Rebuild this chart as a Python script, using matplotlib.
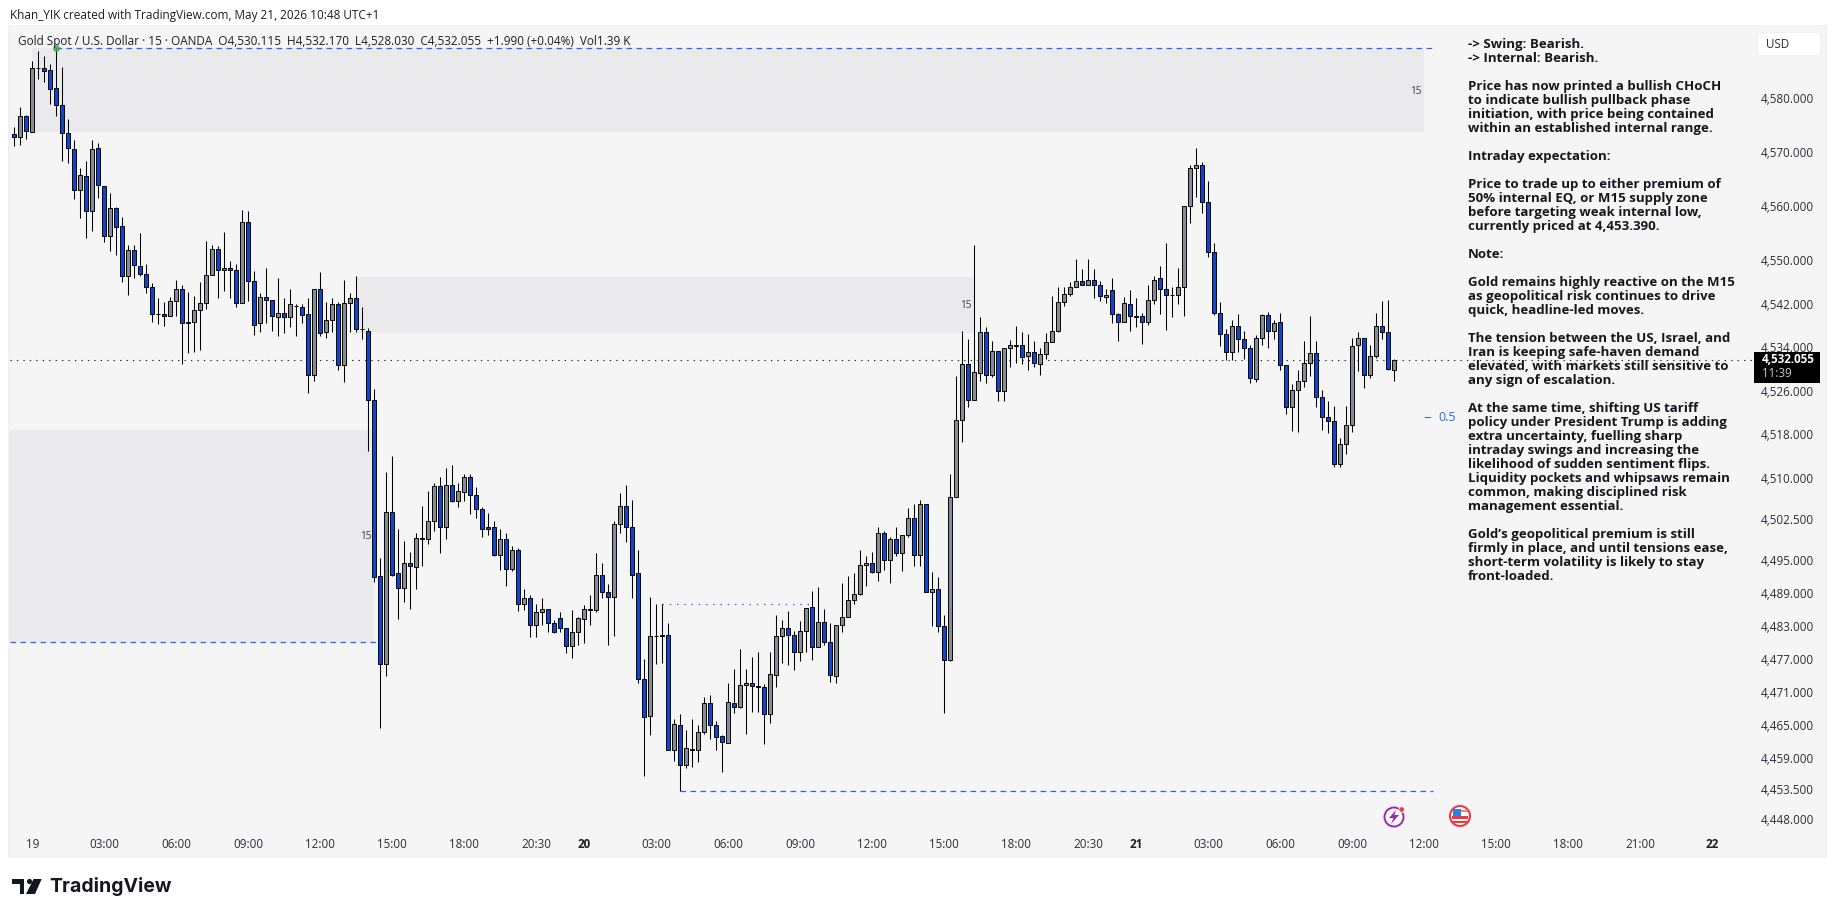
"""Gold Spot / USD 15m chart (TradingView screenshot)."""
import matplotlib
matplotlib.use("Agg")
import matplotlib.pyplot as plt
from matplotlib.patches import Circle, FancyBboxPatch, Polygon, Rectangle
from matplotlib.transforms import Affine2D

W, H = 1835, 917
FONT = "Open Sans"
plt.rcParams["font.family"] = [FONT, "DejaVu Sans"]

opens = [
    4573.7, 4573.1, 4577.0, 4574.1, 4585.9, 4586.0, 4585.6, 4582.2, 4579.1, 4573.9,
    4570.9, 4563.3, 4565.9, 4559.4, 4571.1, 4564.0, 4554.8, 4560.0, 4556.6, 4547.4,
    4552.2, 4549.2, 4547.9, 4545.4, 4540.4, 4540.5, 4540.0, 4542.8, 4545.0, 4538.7,
    4538.9, 4541.1, 4542.4, 4547.7, 4552.4, 4548.5, 4549.0, 4548.5, 4542.4, 4557.4,
    4546.6, 4538.7, 4543.5, 4543.1, 4539.8, 4540.7, 4539.8, 4542.0, 4541.8, 4540.4,
    4529.3, 4545.0, 4537.1, 4539.4, 4542.2, 4531.0, 4542.4, 4543.3, 4537.6, 4537.4,
    4524.7, 4492.5, 4476.5, 4504.2, 4492.9, 4490.3, 4494.9, 4494.1, 4499.4, 4499.1,
    4502.4, 4508.8, 4501.3, 4509.1, 4506.2, 4507.8, 4510.6, 4507.3, 4504.7, 4501.3,
    4501.3, 4496.3, 4499.2, 4493.8, 4497.2, 4487.4, 4488.5, 4483.6, 4485.9, 4486.5,
    4483.8, 4484.8, 4483.0, 4479.7, 4482.3, 4484.6, 4486.3, 4486.3, 4492.7, 4489.6,
    4488.7, 4502.0, 4505.3, 4501.3, 4492.9, 4473.7, 4467.0, 4481.6, 4481.6, 4481.7,
    4460.9, 4465.4, 4458.2, 4461.0, 4460.9, 4464.1, 4469.4, 4465.4, 4463.4, 4462.1,
    4469.4, 4468.7, 4472.7, 4473.0, 4472.5, 4472.3, 4467.4, 4474.5, 4481.6, 4483.0,
    4481.7, 4478.6, 4482.5, 4486.8, 4479.6, 4484.1, 4480.5, 4474.3, 4483.6, 4485.0,
    4488.1, 4489.2, 4494.5, 4494.9, 4493.2, 4500.3, 4495.4, 4499.2, 4496.7, 4500.0,
    4503.1, 4496.3, 4505.5, 4489.6, 4490.1, 4483.4, 4477.2, 4506.9, 4520.9, 4531.3,
    4524.7, 4529.5, 4537.1, 4529.3, 4533.7, 4526.2, 4534.1, 4534.7, 4534.7, 4532.8,
    4533.4, 4531.3, 4533.0, 4535.2, 4537.4, 4542.6, 4544.1, 4545.4, 4546.5, 4545.7,
    4546.8, 4545.7, 4543.5, 4544.8, 4540.4, 4538.9, 4542.2, 4540.0, 4540.0, 4538.9,
    4543.1, 4547.0, 4545.0, 4543.9, 4543.9, 4545.4, 4560.3, 4567.4, 4567.9, 4561.1,
    4551.8, 4540.7, 4536.7, 4533.4, 4538.3, 4535.8, 4534.1, 4528.4, 4536.1, 4540.2,
    4537.4, 4538.9, 4531.0, 4523.3, 4526.4, 4528.1, 4531.5, 4533.2, 4525.1, 4521.6,
    4520.7, 4512.9, 4516.6, 4520.0, 4534.7, 4536.1, 4529.3, 4532.8, 4538.2, 4537.1,
    4530.115,
]
highs = [
    4575.0, 4578.7, 4577.3, 4587.3, 4589.1, 4588.2, 4586.8, 4589.7, 4586.1, 4576.5,
    4572.6, 4567.5, 4568.7, 4572.6, 4572.0, 4564.0, 4562.7, 4560.2, 4558.3, 4553.1,
    4553.1, 4555.3, 4549.6, 4546.1, 4543.4, 4542.6, 4543.5, 4546.8, 4545.8, 4544.5,
    4543.7, 4546.3, 4554.0, 4553.1, 4552.9, 4555.5, 4550.3, 4549.6, 4559.6, 4559.4,
    4548.3, 4544.4, 4548.9, 4543.1, 4547.0, 4543.3, 4545.0, 4542.2, 4542.2, 4543.3,
    4545.0, 4548.1, 4542.6, 4543.3, 4542.6, 4546.8, 4544.4, 4547.4, 4541.8, 4537.8,
    4526.6, 4495.8, 4511.5, 4514.3, 4501.1, 4498.9, 4496.9, 4500.3, 4505.3, 4507.9,
    4509.5, 4510.6, 4512.2, 4512.8, 4509.5, 4511.0, 4511.1, 4508.6, 4505.1, 4504.0,
    4502.5, 4501.1, 4500.2, 4498.0, 4497.6, 4490.1, 4489.0, 4487.4, 4488.5, 4486.5,
    4484.5, 4485.9, 4483.0, 4486.2, 4485.0, 4487.1, 4488.9, 4496.7, 4494.9, 4490.9,
    4502.4, 4507.5, 4509.0, 4506.4, 4497.1, 4477.4, 4488.7, 4487.4, 4487.4, 4483.9,
    4466.5, 4467.4, 4464.5, 4466.5, 4465.4, 4470.5, 4470.8, 4466.1, 4463.6, 4473.0,
    4475.6, 4479.2, 4475.6, 4477.7, 4478.6, 4472.8, 4478.6, 4485.4, 4484.4, 4486.1,
    4482.5, 4484.2, 4486.7, 4489.7, 4490.5, 4486.5, 4483.9, 4483.6, 4491.2, 4492.5,
    4492.9, 4497.2, 4496.0, 4496.9, 4501.4, 4500.7, 4499.6, 4501.3, 4500.0, 4504.9,
    4505.5, 4506.4, 4505.6, 4493.2, 4492.3, 4485.4, 4511.1, 4529.0, 4537.4, 4535.8,
    4553.1, 4539.8, 4538.0, 4535.4, 4533.7, 4534.1, 4535.6, 4538.3, 4537.1, 4536.7,
    4535.4, 4534.1, 4536.9, 4543.7, 4545.4, 4545.4, 4546.3, 4550.5, 4548.7, 4550.5,
    4548.7, 4546.5, 4545.1, 4547.0, 4540.7, 4543.5, 4544.8, 4543.4, 4540.7, 4545.7,
    4547.5, 4549.2, 4553.5, 4545.4, 4548.9, 4560.3, 4567.9, 4571.1, 4568.5, 4565.0,
    4553.5, 4542.6, 4537.6, 4539.3, 4540.4, 4537.4, 4534.7, 4536.5, 4540.4, 4540.9,
    4539.4, 4540.7, 4531.0, 4527.5, 4530.1, 4535.4, 4540.0, 4535.4, 4526.4, 4524.5,
    4523.6, 4517.7, 4523.6, 4536.1, 4537.2, 4536.1, 4534.8, 4540.7, 4542.8, 4543.1,
    4532.17,
]
lows = [
    4571.4, 4571.7, 4572.8, 4574.0, 4583.9, 4583.4, 4579.3, 4577.0, 4568.8, 4568.4,
    4561.7, 4558.1, 4554.5, 4555.7, 4561.8, 4553.7, 4552.0, 4551.4, 4546.3, 4544.0,
    4547.1, 4547.4, 4544.3, 4539.0, 4538.6, 4538.3, 4540.0, 4540.0, 4531.3, 4533.3,
    4533.5, 4533.9, 4541.3, 4547.7, 4543.4, 4544.6, 4543.4, 4541.8, 4542.4, 4542.9,
    4536.6, 4537.2, 4538.7, 4537.4, 4536.4, 4537.0, 4538.0, 4536.4, 4538.7, 4526.0,
    4528.2, 4536.3, 4536.1, 4537.2, 4530.2, 4527.9, 4537.1, 4537.1, 4535.9, 4515.3,
    4491.3, 4464.9, 4474.3, 4492.5, 4484.7, 4487.7, 4486.5, 4490.0, 4494.2, 4498.3,
    4500.7, 4496.6, 4499.1, 4506.0, 4505.0, 4506.2, 4503.7, 4503.1, 4499.5, 4500.0,
    4496.0, 4493.6, 4490.6, 4493.3, 4486.0, 4486.2, 4481.4, 4481.3, 4483.6, 4482.2,
    4482.0, 4482.3, 4478.5, 4477.6, 4479.8, 4480.2, 4483.6, 4485.9, 4488.5, 4479.9,
    4481.6, 4500.2, 4498.6, 4488.4, 4472.9, 4456.2, 4463.5, 4476.5, 4476.6, 4460.9,
    4458.8, 4453.39, 4457.6, 4457.8, 4458.6, 4463.7, 4462.8, 4460.8, 4456.9, 4462.1,
    4467.6, 4468.4, 4463.7, 4467.8, 4467.8, 4461.9, 4465.7, 4472.2, 4476.7, 4476.3,
    4475.3, 4476.9, 4478.7, 4477.1, 4479.6, 4479.9, 4473.1, 4472.9, 4482.2, 4485.0,
    4487.4, 4488.9, 4490.6, 4492.9, 4491.5, 4493.6, 4491.1, 4496.0, 4493.3, 4499.5,
    4494.2, 4494.2, 4489.6, 4483.4, 4482.3, 4467.5, 4476.9, 4506.9, 4516.9, 4523.4,
    4524.7, 4528.1, 4527.7, 4528.8, 4524.4, 4524.5, 4530.6, 4531.5, 4531.3, 4530.2,
    4530.6, 4529.3, 4532.2, 4535.2, 4537.2, 4541.9, 4543.7, 4545.4, 4545.7, 4545.7,
    4543.4, 4542.9, 4542.4, 4538.8, 4535.5, 4538.9, 4537.4, 4538.1, 4535.0, 4538.5,
    4542.2, 4540.5, 4537.5, 4539.9, 4542.2, 4540.1, 4557.3, 4562.1, 4559.1, 4550.9,
    4540.2, 4534.5, 4531.9, 4531.9, 4533.4, 4532.1, 4527.7, 4527.9, 4534.8, 4534.1,
    4535.9, 4530.1, 4522.0, 4518.9, 4518.7, 4527.1, 4529.0, 4523.3, 4519.2, 4518.5,
    4512.4, 4512.4, 4514.8, 4518.7, 4529.9, 4526.8, 4528.6, 4532.3, 4535.9, 4530.1,
    4528.03,
]
closes = [
    4573.1, 4577.0, 4574.2, 4586.0, 4586.0, 4585.4, 4582.0, 4579.1, 4573.9, 4571.1,
    4563.3, 4566.1, 4559.4, 4570.9, 4564.2, 4554.8, 4560.0, 4556.5, 4547.4, 4552.2,
    4549.4, 4547.9, 4545.4, 4540.4, 4540.5, 4540.0, 4542.8, 4545.0, 4538.7, 4538.9,
    4541.1, 4542.4, 4547.7, 4552.4, 4548.5, 4548.9, 4548.5, 4542.4, 4557.4, 4546.6,
    4538.5, 4543.5, 4543.1, 4540.0, 4540.7, 4539.8, 4542.2, 4541.9, 4540.2, 4529.3,
    4545.0, 4536.9, 4539.4, 4542.2, 4531.0, 4542.4, 4543.3, 4537.6, 4537.7, 4524.7,
    4492.3, 4476.5, 4504.2, 4492.7, 4490.3, 4494.9, 4494.3, 4499.4, 4499.1, 4502.4,
    4508.8, 4501.3, 4509.1, 4506.2, 4508.0, 4510.6, 4507.3, 4504.7, 4501.1, 4501.1,
    4496.3, 4499.2, 4493.8, 4497.2, 4487.4, 4488.5, 4483.6, 4485.9, 4486.5, 4483.8,
    4482.3, 4483.0, 4479.7, 4482.3, 4484.8, 4486.5, 4486.5, 4492.7, 4489.6, 4488.7,
    4502.0, 4505.3, 4501.3, 4492.7, 4473.7, 4466.9, 4481.6, 4481.5, 4481.7, 4460.9,
    4465.6, 4458.2, 4461.2, 4460.9, 4464.1, 4469.4, 4465.4, 4463.2, 4462.3, 4469.6,
    4468.7, 4472.7, 4473.0, 4472.5, 4472.3, 4467.4, 4474.7, 4481.6, 4483.0, 4481.7,
    4478.6, 4482.5, 4486.7, 4479.6, 4484.1, 4480.5, 4474.5, 4483.6, 4485.0, 4488.1,
    4489.2, 4494.5, 4494.9, 4493.2, 4500.3, 4495.4, 4499.2, 4496.7, 4500.0, 4503.1,
    4496.3, 4505.5, 4489.6, 4490.1, 4483.4, 4477.2, 4506.9, 4520.9, 4531.3, 4524.7,
    4529.7, 4537.1, 4529.3, 4533.7, 4526.2, 4534.1, 4534.7, 4534.6, 4532.6, 4533.4,
    4531.5, 4533.0, 4535.2, 4537.4, 4542.6, 4544.1, 4545.4, 4546.5, 4545.7, 4546.8,
    4545.7, 4543.7, 4543.9, 4540.4, 4538.9, 4542.4, 4540.0, 4539.9, 4538.9, 4543.1,
    4546.8, 4545.0, 4543.9, 4543.9, 4545.4, 4560.3, 4567.4, 4567.9, 4561.1, 4551.8,
    4540.7, 4536.7, 4533.4, 4538.2, 4535.8, 4534.1, 4528.6, 4536.1, 4540.2, 4537.4,
    4538.7, 4531.0, 4523.3, 4526.4, 4528.1, 4531.5, 4533.2, 4525.1, 4521.6, 4520.7,
    4512.9, 4516.6, 4520.0, 4534.5, 4536.1, 4529.3, 4532.8, 4538.2, 4537.2, 4530.4,
    4532.055,
]

price_ticks = [4580, 4570, 4560, 4550, 4542, 4534, 4526, 4518, 4510, 4502.5, 4495,
               4489, 4483, 4477, 4471, 4465, 4459, 4453.5, 4448]
time_pos = [3, 15, 27, 39, 51, 63, 75, 87, 95, 107, 119, 131, 143, 155, 167, 179, 187,
            199, 211, 223, 235, 247, 259, 271, 283]
time_labels = ["19", "03:00", "06:00", "09:00", "12:00", "15:00", "18:00", "20:30", "20",
               "03:00", "06:00", "09:00", "12:00", "15:00", "18:00", "20:30", "21",
               "03:00", "06:00", "09:00", "12:00", "15:00", "18:00", "21:00", "22"]
day_labels = ["20", "21", "22"]

# (x0, x1, price low, price high)
zones = [(3, 235, 4574.1, 4589.7), (57, 160, 4536.9, 4547.2), (-0.7, 60, 4480.5, 4519.1)]
zone_tags = [(234.5, 4581.7), (159.5, 4542.0), (59.5, 4499.7)]

note_lines = [
    "-> Swing: Bearish.", "-> Internal: Bearish.", "",
    "Price has now printed a bullish CHoCH", "to indicate bullish pullback phase",
    "initiation, with price being contained", "within an established internal range.", "",
    "Intraday expectation:", "",
    "Price to trade up to either premium of", "50% internal EQ, or M15 supply zone",
    "before targeting weak internal low,", "currently priced at 4,453.390.", "",
    "Note:", "",
    "Gold remains highly reactive on the M15", "as geopolitical risk continues to drive",
    "quick, headline-led moves.", "",
    "The tension between the US, Israel, and", "Iran is keeping safe-haven demand",
    "elevated, with markets still sensitive to", "any sign of escalation.", "",
    "At the same time, shifting US tariff", "policy under President Trump is adding",
    "extra uncertainty, fuelling sharp", "intraday swings and increasing the",
    "likelihood of sudden sentiment flips.", "Liquidity pockets and whipsaws remain",
    "common, making disciplined risk", "management essential.", "",
    "Gold\u2019s geopolitical premium is still", "firmly in place, and until tensions ease,",
    "short-term volatility is likely to stay", "front-loaded.",
]

BG = "#f6f5f6"
ZONE = "#eaeaec"
GREY = "#878b94"
BLUE = "#1446c4"
LINE_BLUE = "#2962ff"
INK = "#1b1d24"
DASH = (0, (4.5, 3.5))
DOT = (0, (1.2, 4.6))

fig = plt.figure(figsize=(W / 100, H / 100), dpi=100, facecolor="white")
PX = Affine2D().scale(1, -1).translate(0, H)  # picture pixels, origin top-left

fig.add_artist(Rectangle((9, 26), 1816.5, 831, transform=PX, fc=BG, ec="#efefef", lw=1.2, zorder=-1))

ax = fig.add_axes([10 / W, 1 - 856 / H, 1815 / W, 830 / H])
ax.set_facecolor(BG)
ax.set_yscale("log")
ax.set_xlim(-0.72, 301.8)
ax.set_ylim(4441.7, 4593.8)
for s in ax.spines.values():
    s.set_visible(False)
ax.minorticks_off()
ax.set_yticks([])
ax.tick_params(axis="y", which="both", left=False, right=False, labelleft=False)

for x0, x1, lo, hi in zones:
    ax.fill_between([x0, x1], lo, hi, color=ZONE, lw=0, zorder=1)
for x, p in zone_tags:
    ax.text(x, p, "15", ha="right", va="center", fontsize=7.2, color="#3c3e44", zorder=2)

# levels
ax.plot([-0.7, 290], [closes[-1]] * 2, color="#222222", lw=0.8, ls=DOT, zorder=2)
ax.plot([7, 237], [highs[7]] * 2, color=LINE_BLUE, lw=0.9, ls=DASH, zorder=2)
ax.plot([-0.7, 61], [4480.5] * 2, color=LINE_BLUE, lw=0.9, ls=DASH, zorder=2)
ax.plot([111, 236.5], [lows[111]] * 2, color=LINE_BLUE, lw=0.9, ls=DASH, zorder=2)
ax.plot([108, 133], [4487.4] * 2, color=LINE_BLUE, lw=0.9, ls=DOT, zorder=2)

# candles
idx = list(range(len(opens)))
ax.vlines(idx, lows, highs, color="black", lw=0.75, zorder=3)
for i in idx:
    up = closes[i] >= opens[i]
    ax.bar(i, abs(closes[i] - opens[i]), bottom=min(opens[i], closes[i]), width=0.68,
           color=GREY if up else BLUE, edgecolor="#0a0a0a", linewidth=0.72, zorder=4)
ax.plot([7], [highs[7]], "o", ms=5, color="#43a65a", mec="none", alpha=0.85, zorder=5)

# time axis
ax.set_xticks(time_pos)
ax.set_xticklabels(time_labels, fontsize=8.4, color="#2a2e39")
ax.tick_params(axis="x", length=0, pad=-13)
for lab in ax.get_xticklabels():
    if lab.get_text() in day_labels:
        lab.set_fontweight("bold")
        lab.set_color(INK)

# price axis
for p in price_ticks:
    ax.annotate(f"{p:,.3f}", (1, p), xycoords=("axes fraction", "data"), xytext=(-46, 0.2),
                textcoords="offset points", fontsize=8.4, color="#2a2e39", va="center",
                ha="left", zorder=6)

# last price label
fig.add_artist(Rectangle((1754, 352), 66, 31, transform=PX, fc="black", ec="none", zorder=7))
fig.text(1762, 359.5, "4,532.055", transform=PX, color="white", fontsize=8.4,
         fontweight="bold", va="center", zorder=8)
fig.text(1762, 373.5, "11:39", transform=PX, color="#c8c8c8", fontsize=8.4, va="center", zorder=8)

# USD box
fig.add_artist(FancyBboxPatch((1759, 34), 60, 20, boxstyle="round,pad=1.5,rounding_size=3",
                              transform=PX, fc="white", ec="#f1f1f1", lw=0.8))
fig.text(1766, 44, "USD", transform=PX, fontsize=8.4, color="#2a2e39", va="center")

# header
fig.text(10, 15, "Khan_YIK created with TradingView.com, May 21, 2026 10:48 UTC+1",
         transform=PX, fontsize=8.45, color=INK, va="center")
fig.text(18, 41.5, "Gold Spot / U.S. Dollar \u00b7 15 \u00b7 OANDA  O4,530.115  H4,532.170  "
         "L4,528.030  C4,532.055  +1.990 (+0.04%)  Vol1.39 K",
         transform=PX, fontsize=8.5, color=INK, va="center")

# note
for n, line in enumerate(note_lines):
    if line:
        fig.text(1468, 44.5 + 14 * n, line, transform=PX, fontsize=9.5, fontweight="bold",
                 color="#15171c", va="center", zorder=6)

# fib tag
fig.text(1423, 417.5, "\u2013", transform=PX, fontsize=11, color=LINE_BLUE, va="center")
fig.text(1438.5, 417.5, "0.5", transform=PX, fontsize=8.9, color=LINE_BLUE, va="center")

# event icons
fig.add_artist(Circle((1394, 817), 9.5, transform=PX, fc="white", ec="#9c27b0", lw=1.4, zorder=6))
fig.add_artist(Polygon([(1396, 810), (1389, 818), (1393.5, 818), (1391, 824), (1399, 815), (1394.5, 815)],
                       transform=PX, fc="#9c27b0", ec="none", zorder=7))
fig.add_artist(Circle((1401.7, 809.5), 2.8, transform=PX, fc="#f23645", ec="white", lw=0.6, zorder=8))
fig.add_artist(Circle((1460, 816), 10, transform=PX, fc="white", ec="#f23645", lw=1.5, zorder=6))
fig.add_artist(Rectangle((1452, 810), 16, 2.2, transform=PX, fc="#f77c80", ec="none", zorder=7))
fig.add_artist(Rectangle((1452, 816), 16, 2.6, transform=PX, fc="#f23645", ec="none", zorder=7))
fig.add_artist(Rectangle((1453, 820.5), 14, 2.4, transform=PX, fc="#f23645", ec="none", zorder=7))
fig.add_artist(Rectangle((1452.5, 809), 8, 7, transform=PX, fc="#2f7fe0", ec="none", zorder=8))

# logo
fig.add_artist(Polygon([(12, 879), (24, 879), (24, 894), (19.5, 894), (19.5, 883.5), (12, 883.5)],
                       transform=PX, fc="#131722", ec="none"))
fig.add_artist(Circle((29.5, 881.5), 2.6, transform=PX, fc="#131722", ec="none"))
fig.add_artist(Polygon([(33.5, 879), (41.7, 879), (35, 894), (26, 894)],
                       transform=PX, fc="#131722", ec="none"))
fig.text(49, 886.5, "TradingView", transform=PX, fontsize=14, fontweight="bold",
         family="Inter", color="#131722", va="center")

fig.savefig("out.png", dpi=100, facecolor="white")
